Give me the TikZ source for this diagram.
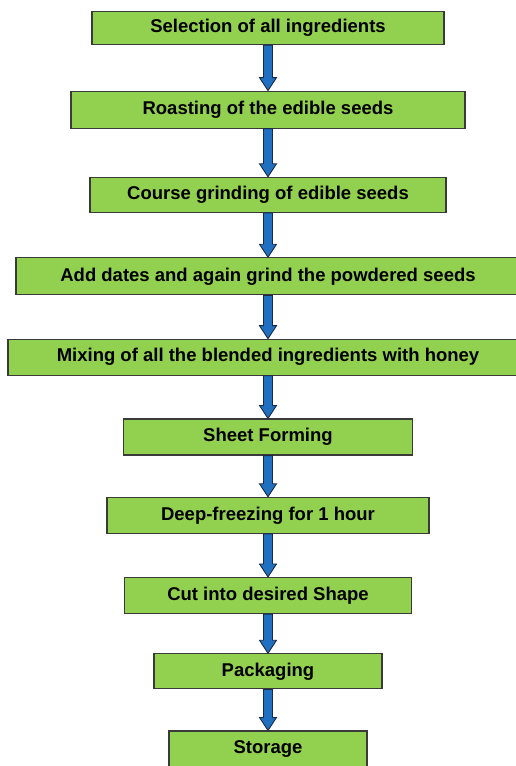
\documentclass[tikz,border=0pt]{standalone}
\usepackage{fontspec}
\setmainfont{Liberation Sans}
\usetikzlibrary{calc}
\definecolor{boxgreen}{HTML}{92D050}
\definecolor{boxline}{HTML}{3A3A3A}
\definecolor{arrblue}{HTML}{1F70C0}
\definecolor{arrline}{HTML}{1A2A44}
\tikzset{
  stepbox/.style={draw=boxline, line width=1.1pt, fill=boxgreen, rectangle,
    inner sep=0pt, font=\fontsize{18.5}{20}\selectfont\bfseries, text=black},
  flowarr/.style={draw=arrline, line width=0.9pt, fill=arrblue, line join=miter}
}
\newcommand{\flowarrow}[2]{%
  \draw[flowarr] ($(#1.south)+(-4.5pt,0)$) -- ($(#2.north)+(-4.5pt,13pt)$)
    -- ($(#2.north)+(-8.5pt,13pt)$) -- (#2.north) -- ($(#2.north)+(8.5pt,13pt)$)
    -- ($(#2.north)+(4.5pt,13pt)$) -- ($(#1.south)+(4.5pt,0)$) -- cycle;}
\begin{document}
\begin{tikzpicture}[x=1pt,y=-1pt]
\useasboundingbox (0,0) rectangle (516,766);
\clip (0,0) rectangle (516,766);
\fill[white] (0,0) rectangle (516,766);
\node[stepbox, minimum width=352pt, minimum height=33pt] (b1) at (268,28) {Selection of all ingredients};
\node[stepbox, minimum width=394pt, minimum height=37pt] (b2) at (268,109.6) {Roasting of the edible seeds};
\node[stepbox, minimum width=356pt, minimum height=35pt] (b3) at (268,194.8) {Course grinding of edible seeds};
\node[stepbox, minimum width=504pt, minimum height=37pt] (b4) at (268,276.3) {Add dates and again grind the powdered seeds};
\node[stepbox, minimum width=520pt, minimum height=36pt] (b5) at (268,357.2) {Mixing of all the blended ingredients with honey};
\node[stepbox, minimum width=289pt, minimum height=36pt] (b6) at (268,437) {Sheet Forming};
\node[stepbox, minimum width=322pt, minimum height=36pt] (b7) at (268,515.3) {Deep-freezing for 1 hour};
\node[stepbox, minimum width=287pt, minimum height=36pt] (b8) at (268,595.5) {Cut into desired Shape};
\node[stepbox, minimum width=228pt, minimum height=35pt] (b9) at (268,671.3) {Packaging};
\node[stepbox, minimum width=198pt, minimum height=36pt] (b10) at (268,749) {Storage};
\flowarrow{b1}{b2}
\flowarrow{b2}{b3}
\flowarrow{b3}{b4}
\flowarrow{b4}{b5}
\flowarrow{b5}{b6}
\flowarrow{b6}{b7}
\flowarrow{b7}{b8}
\flowarrow{b8}{b9}
\flowarrow{b9}{b10}
\end{tikzpicture}
\end{document}
